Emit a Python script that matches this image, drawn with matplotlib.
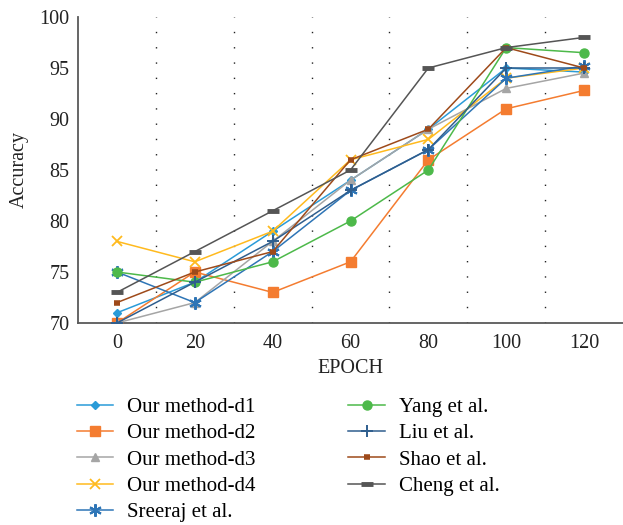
import matplotlib

matplotlib.use("Agg")
import matplotlib.pyplot as plt
import numpy as np

plt.rcParams["font.family"] = ["Liberation Serif", "DejaVu Serif"]

# ── data ──────────────────────────────────────────────────────────────────────
EPOCHS = [0, 20, 40, 60, 80, 100, 120]

OUR_D1 = [71, 74, 79, 84, 89, 95, 94.6]
OUR_D2 = [70, 75, 73, 76, 86, 91, 92.8]
OUR_D3 = [70, 72, 78, 84, 89, 93, 94.5]
OUR_D4 = [78, 76, 79, 86, 88, 94, 95]
SREERAJ = [75, 72, 77, 83, 87, 94, 95.2]
YANG = [75, 74, 76, 80, 85, 97, 96.5]
LIU = [70, 74, 78, 83, 87, 95, 95]
SHAO = [72, 75, 77, 86, 89, 97, 95]
CHENG = [73, 77, 81, 85, 95, 97, 98]

Y_TICKS = [70, 75, 80, 85, 90, 95, 100]

# (label, values, colour, marker, marker size, marker edge width)
SERIES = [
    ("Our method-d1", OUR_D1, "#2A9BD8", "D", 4.5, 1.0),
    ("Our method-d2", OUR_D2, "#F47C30", "s", 7.5, 1.0),
    ("Our method-d3", OUR_D3, "#A5A5A5", "^", 5.5, 1.0),
    ("Our method-d4", OUR_D4, "#FFBA1E", "x", 6.5, 1.3),
    ("Sreeraj et al.", SREERAJ, "#2E75B6", (6, 2, 0), 9.0, 1.5),
    ("Yang et al.", YANG, "#4DB94A", "o", 6.5, 1.0),
    ("Liu et al.", LIU, "#2F5E8E", "+", 8.0, 1.4),
    ("Shao et al.", SHAO, "#9E4A1A", "_", 5.0, 4.0),
    ("Cheng et al.", CHENG, "#555555", "_", 8.0, 3.5),
]

fig = plt.figure(figsize=(6.23, 5.25), dpi=100)
ax = fig.add_axes([78 / 623, 1 - 323 / 525, 545 / 623, 306 / 525])

handles = []
for label, vals, color, marker, ms, mew in SERIES:
    (h,) = ax.plot(
        EPOCHS,
        vals,
        color=color,
        linewidth=1.1,
        marker=marker,
        markersize=ms,
        markeredgewidth=mew,
        markerfacecolor=color,
        markeredgecolor=color,
        label=label,
        zorder=3,
    )
    handles.append(h)

# dotted separators between epoch categories
for xb in np.arange(10, 120, 20):
    ax.axvline(xb, color="#222222", linewidth=1.0, linestyle=(0, (1, 10)), zorder=1)

ax.set_xlim(-10, 130)
ax.set_ylim(70, 100)
ax.set_xticks(EPOCHS)
ax.set_yticks(Y_TICKS)
ax.tick_params(axis="both", length=0, labelsize=14.5, colors="#222222", pad=6)
ax.tick_params(axis="x", pad=8)

for side in ("top", "right"):
    ax.spines[side].set_visible(False)
for side in ("left", "bottom"):
    ax.spines[side].set_color("#595959")
    ax.spines[side].set_linewidth(1.3)

ax.set_xlabel("EPOCH", fontsize=14.5, color="#222222", labelpad=4)
ax.set_ylabel("Accuracy", fontsize=14.5, color="#222222", labelpad=8)

fig.legend(
    handles=handles,
    ncol=2,
    loc="upper left",
    bbox_to_anchor=(62 / 623, 1 - 383 / 525),
    frameon=False,
    fontsize=15,
    handlelength=1.76,
    handletextpad=0.67,
    columnspacing=4.45,
    labelspacing=0.32,
    borderpad=0.2,
)

fig.savefig("out.png", dpi=100)
